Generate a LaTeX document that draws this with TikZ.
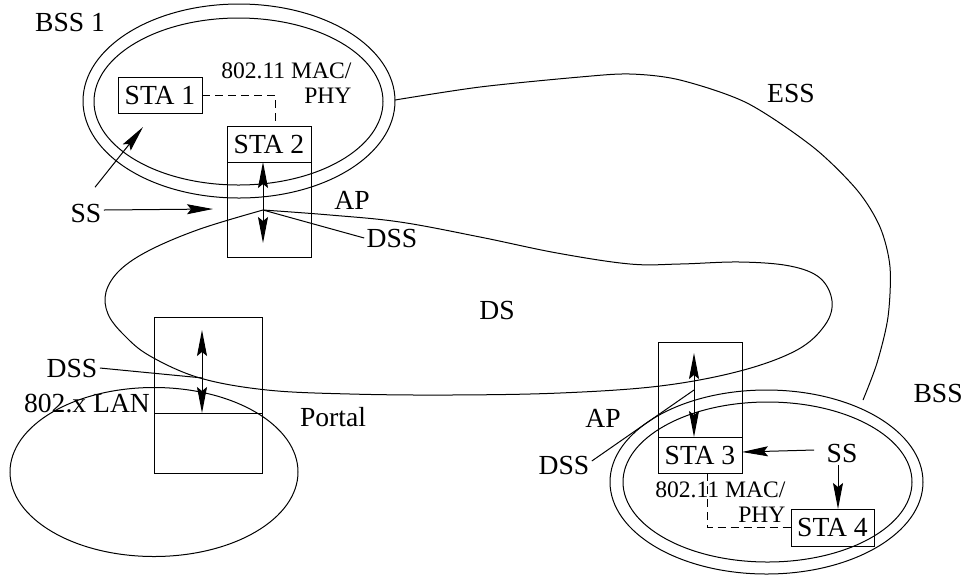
\documentclass[tikz,border=0pt]{standalone}
\usepackage{fontspec}
\setmainfont{Liberation Serif}
\usetikzlibrary{arrows.meta,positioning}
\begin{document}
\begin{tikzpicture}[
  x=0.5pt, y=-0.5pt, line width=0.5pt,
  etiq/.style={font=\fontsize{13.8}{15}\selectfont, inner sep=1pt},
  capa/.style={font=\fontsize{11.8}{12.5}\selectfont, inner sep=0pt, align=right},
  caja/.style={draw, font=\fontsize{13.8}{15}\selectfont, minimum width=42pt, minimum height=18pt, inner sep=0pt, outer sep=0pt},
  hueco/.style={draw, minimum width=42pt, minimum height=47.5pt, inner sep=0pt, outer sep=0pt},
  punta/.tip={Stealth[length=13pt, width=5pt, inset=2pt]},
  flecha/.style={-punta},
  doble/.style={punta-punta},
  raya/.style={dash pattern=on 4pt off 2.5pt}
]
\useasboundingbox (0,0) rectangle (964,575);

\draw (239,101) ellipse [x radius=156, y radius=97];
\draw (238.5,101.5) ellipse [x radius=144.5, y radius=83.5];
\draw (154,472) ellipse [x radius=144, y radius=84.5];
\draw (766.5,482) ellipse [x radius=156.5, y radius=92];
\draw (767.5,482) ellipse [x radius=144.5, y radius=80];

\draw plot[smooth, tension=0.6] coordinates {(263,210) (200,229) (150,250) (120,270) (106,292)
  (108,314) (124,335) (150,356) (200,378) (267,390) (350,394) (450,395) (560,393) (660,386)
  (740,371) (797,350) (825,325) (832,301) (820,278) (790,266) (740,262) (680,264) (630,264)
  (557,253) (480,237) (400,222) (330,215) (263,210)};
\draw plot[smooth] coordinates {(395,100) (480,87) (580,77) (630,74) (680,80) (747,103) (813,147)
  (857,190) (880,227) (890,267) (888,317) (877,363) (863,400)};

\node[caja] (sta1) at (160,95) {STA 1};
\node[caja] (sta2) at (269,144) {STA 2};
\node[hueco, below=0pt of sta2] (ap1) {};
\node[draw, outer sep=0pt, minimum width=54pt, minimum height=48pt] (ptop) at (208,365) {};
\node[draw, outer sep=0pt, minimum width=54pt, minimum height=30pt, below=0pt of ptop] (pbot) {};
\node[hueco] (ap2) at (700,389.5) {};
\node[caja, below=0pt of ap2] (sta3) {STA 3};
\node[caja, minimum width=41.5pt, minimum height=18.5pt] (sta4) at (832.5,527.5) {STA 4};

\node[etiq] (bss1) at (70,22) {BSS 1};
\node[capa, anchor=east] (mac1) at (352,83) {802.11 MAC/\\PHY};
\node[etiq] (ss1) at (86,213) {SS};
\node[etiq] (ap1l) at (352,200) {AP};
\node[etiq] (dss1) at (392,238) {DSS};
\node[etiq] (ds) at (497,310) {DS};
\node[etiq] (ess) at (791,93) {ESS};
\node[etiq] (dss2) at (72,368) {DSS};
\node[etiq] (lan) at (87,404) {802.x LAN};
\node[etiq] (portal) at (333,417) {Portal};
\node[etiq] (ap2l) at (603,418) {AP};
\node[etiq] (dss3) at (564,465) {DSS};
\node[etiq] (ss2) at (842,453) {SS};
\node[capa, anchor=east] (mac2) at (786,502) {802.11 MAC/\\PHY};
\node[etiq, anchor=west] (bss2) at (911,393) {BSS};

\coordinate (p1) at (213,209);
\coordinate (p2) at (143,127);
\coordinate (apex) at (263,210);
\coordinate (q1) at (203,378);
\coordinate (q2) at (694,390);

\draw[raya] (sta1.east) -| ([xshift=3pt]sta2.north);
\draw[raya] ([xshift=3.5pt]sta3.south) |- (sta4.west);

\draw[doble] ([xshift=-3pt]ap1.north) -- ([xshift=-3pt,yshift=7pt]ap1.south);
\draw[doble] ([xshift=-3pt,yshift=-6.5pt]ptop.north) -- ([xshift=-3pt]ptop.south);
\draw[doble] ([xshift=-3pt,yshift=-5.5pt]ap2.north) -- ([xshift=-3pt]ap2.south);

\draw[flecha] ([yshift=1.5pt]ss1.east) -- (p1);
\draw[flecha] ([xshift=4.5pt,yshift=7pt]ss1.north) -- (p2);
\draw[flecha] ([xshift=-5pt,yshift=1.5pt]ss2.west) -- ([yshift=1.5pt]sta3.east);
\draw[flecha] ([xshift=-2pt]ss2.south) -- ([xshift=-2pt]ss2.south |- sta4.north);

\draw (dss1.west) -- (apex);
\draw (dss2.east) -- (q1);
\draw ([yshift=2pt]dss3.east) -- (q2);
\end{tikzpicture}
\end{document}
